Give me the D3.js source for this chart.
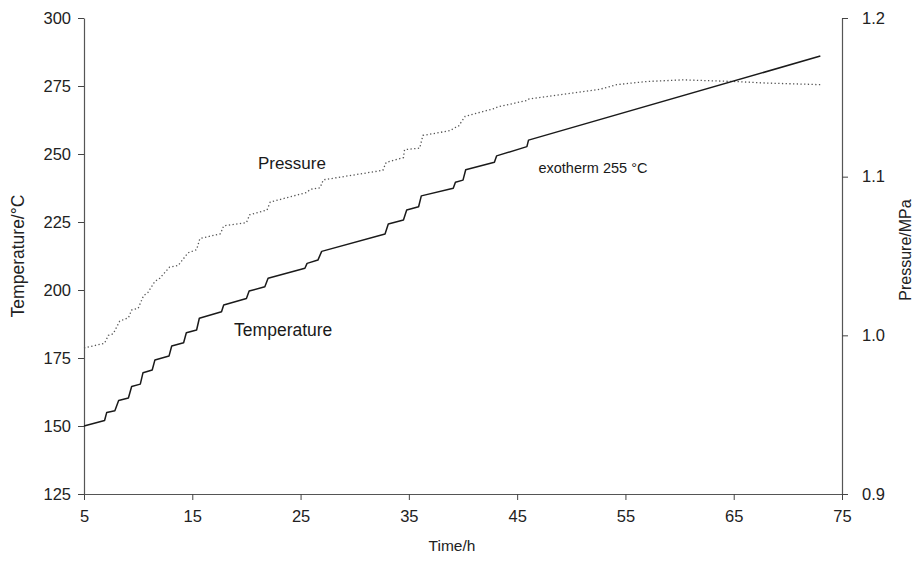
<!DOCTYPE html>
<html>
<head>
<meta charset="utf-8">
<script src="https://cdn.jsdelivr.net/npm/d3@7"></script>
<style>
  body { margin: 0; background: #fff; }
  svg { font-family: "Liberation Sans", Arial, sans-serif; }
</style>
</head>
<body>
<div class="div_chart"></div>
<script>
// time (h) / temperature (°C)
const tempTime = [5, 6.9, 7.1, 7.85, 8.2, 9.1, 9.4, 10.2, 10.45, 11.3, 11.55, 12.85, 13.1, 14.2, 14.45,
  15.4, 15.65, 17.7, 17.9, 20.0, 20.25, 21.7, 22.0, 25.4, 25.6, 26.6, 26.95, 32.8, 33.1, 34.5, 34.8,
  35.9, 36.15, 39.1, 39.3, 40.0, 40.25, 42.9, 43.1, 45.9, 46.05, 73];
const tempValue = [150, 152, 155, 155.6, 159.4, 160.3, 164.5, 165.4, 169.6, 170.6, 174.3, 175.7, 179.4, 180.6, 184.3,
  185.3, 189.6, 192, 194.5, 196.9, 199.6, 201.2, 204.3, 208, 209.8, 211, 214.2, 220.6, 224.3, 225.7, 229.4,
  230.6, 234.6, 237.4, 239.6, 240.4, 244.2, 247, 249.3, 252.7, 255.1, 286];

// time (h) / pressure (MPa)
const presTime = [5, 6.9, 7.25, 7.7, 8.3, 9.1, 9.4, 10.0, 10.5, 10.9, 11.55, 12.0, 12.9, 13.7, 14.6, 15.4,
  15.7, 17.6, 17.9, 20.0, 20.3, 21.9, 22.2, 25.55, 25.9, 26.8, 27.1, 32.6, 32.9, 34.5, 34.6, 36.0, 36.3,
  38.8, 39.3, 39.6, 40.2, 42.9, 43.2, 45.9, 46.1, 52.6, 54.2, 57.0, 60.3, 65.0, 68.0, 73.0];
const presValue = [0.992, 0.995, 1.000, 1.001, 1.009, 1.011, 1.016, 1.017, 1.025, 1.027, 1.034, 1.036, 1.043, 1.044, 1.052, 1.054,
  1.061, 1.064, 1.069, 1.071, 1.076, 1.079, 1.084, 1.090, 1.092, 1.093, 1.098, 1.104, 1.109, 1.112, 1.117, 1.118, 1.126,
  1.129, 1.131, 1.132, 1.138, 1.143, 1.144, 1.148, 1.149, 1.155, 1.158, 1.160, 1.161, 1.160, 1.159, 1.158];

const timeTicks = [5, 15, 25, 35, 45, 55, 65, 75];
const tempTicks = [125, 150, 175, 200, 225, 250, 275, 300];
const presTicks = [0.9, 1.0, 1.1, 1.2];

// text labels placed in data coordinates (time, temperature)
const labels = [
  {text: "Pressure", t: 24.2, v: 246.5, size: 17},
  {text: "Temperature", t: 23.4, v: 185.5, size: 17.5},
  {text: "exotherm 255 °C", t: 52.0, v: 244.8, size: 14.5}
];

const width = 918;
const height = 562;
const margin = {top: 18, right: 76, bottom: 68, left: 84};

const svg = d3.select(".div_chart")
  .append("svg")
    .attr("width", width)
    .attr("height", height);

const x = d3.scaleLinear()
  .domain([5, 75])
  .range([margin.left, width - margin.right]);

const yT = d3.scaleLinear()
  .domain([125, 300])
  .range([height - margin.bottom, margin.top]);

const yP = d3.scaleLinear()
  .domain([0.9, 1.2])
  .range([height - margin.bottom, margin.top]);

const styleAxis = g => g
  .call(g => g.select(".domain").attr("stroke", "#555").attr("stroke-width", 1.2))
  .call(g => g.selectAll(".tick line").attr("stroke", "#444"))
  .call(g => g.selectAll(".tick text")
    .attr("fill", "#222")
    .attr("font-size", 16.5)
    .attr("font-family", "Liberation Sans, Arial, sans-serif"));

svg.append("g")
  .attr("transform", `translate(0, ${height - margin.bottom})`)
  .call(d3.axisBottom(x).tickValues(timeTicks).tickSize(6).tickSizeOuter(0).tickPadding(10))
  .call(styleAxis);

svg.append("g")
  .attr("transform", `translate(${margin.left}, 0)`)
  .call(d3.axisLeft(yT).tickValues(tempTicks).tickSize(6).tickSizeOuter(0).tickPadding(7))
  .call(styleAxis);

svg.append("g")
  .attr("transform", `translate(${width - margin.right}, 0)`)
  .call(d3.axisRight(yP).tickValues(presTicks).tickFormat(d3.format(".1f")).tickSize(6).tickSizeOuter(0).tickPadding(14))
  .call(styleAxis);

// axis titles
svg.append("text")
  .attr("x", 452)
  .attr("y", 551)
  .attr("text-anchor", "middle")
  .attr("font-size", 15.5)
  .attr("fill", "#222")
  .text("Time/h");

svg.append("text")
  .attr("transform", `translate(24, 256) rotate(-90)`)
  .attr("text-anchor", "middle")
  .attr("font-size", 17.5)
  .attr("fill", "#222")
  .text("Temperature/°C");

svg.append("text")
  .attr("transform", `translate(911, 250) rotate(-90)`)
  .attr("text-anchor", "middle")
  .attr("font-size", 16)
  .attr("fill", "#222")
  .text("Pressure/MPa");

// curves
const tempLine = d3.line()
  .x(i => x(tempTime[i]))
  .y(i => yT(tempValue[i]));

const presLine = d3.line()
  .x(i => x(presTime[i]))
  .y(i => yP(presValue[i]));

svg.append("path")
  .attr("d", presLine(d3.range(presTime.length)))
  .attr("fill", "none")
  .attr("stroke", "#555")
  .attr("stroke-width", 1.3)
  .attr("stroke-dasharray", "1.3 2.4");

svg.append("path")
  .attr("d", tempLine(d3.range(tempTime.length)))
  .attr("fill", "none")
  .attr("stroke", "#1a1a1a")
  .attr("stroke-width", 1.5)
  .attr("stroke-linejoin", "round");

svg.append("g")
  .selectAll("text")
  .data(labels)
  .join("text")
    .attr("x", d => x(d.t))
    .attr("y", d => yT(d.v))
    .attr("dy", "0.35em")
    .attr("text-anchor", "middle")
    .attr("font-size", d => d.size)
    .attr("fill", "#1a1a1a")
    .text(d => d.text);
</script>
</body>
</html>
